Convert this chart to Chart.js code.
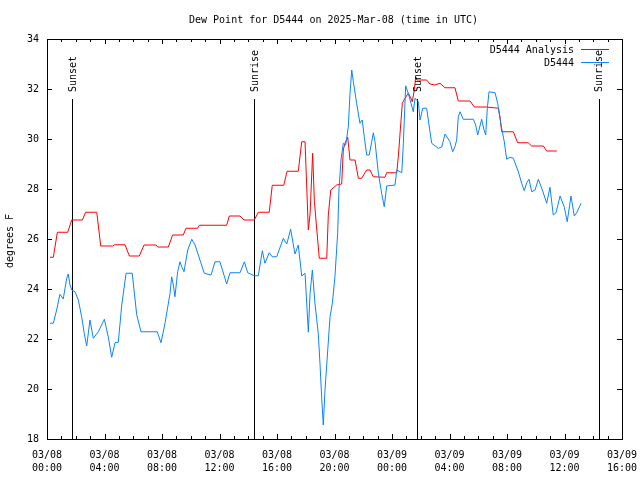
<!DOCTYPE html>
<html>
<head>
<meta charset="utf-8">
<script src="https://cdn.jsdelivr.net/npm/chart.js@4/dist/chart.umd.min.js"></script>
<style>
  body { margin: 0; background: #fff; }
  canvas { display: block; }
</style>
</head>
<body>
<canvas id="dewChart" width="640" height="480"></canvas>
<script>
'use strict';
// Globals
var FONT = '"DejaVu Sans Mono", "Liberation Mono", monospace';
var titleText = 'Dew Point for D5444 on 2025-Mar-08 (time in UTC)';
var yAxisTitle = 'degrees F';

// hours since 03/08 00:00 UTC
var analysisHours = [0.21, 0.44, 0.72, 1.44, 1.72, 2.46, 2.69, 3.46, 3.74, 4.57,
  4.70, 5.43, 5.73, 6.42, 6.75, 7.58, 7.70, 8.44, 8.74, 9.48,
  9.67, 10.48, 10.60, 12.50, 12.68, 13.43, 13.70, 14.42, 14.70, 15.46,
  15.67, 16.47, 16.70, 17.48, 17.72, 17.95, 18.18, 18.30, 18.48, 18.60,
  18.94, 19.46, 19.57, 19.74, 20.15, 20.50, 20.61, 20.73, 20.92, 21.08,
  21.43, 21.66, 21.89, 22.24, 22.47, 22.70, 23.51, 23.63, 24.33, 24.44,
  24.56, 24.72, 24.90, 25.13, 25.32, 25.41, 25.55, 25.65, 25.72, 26.41,
  26.64, 26.99, 27.34, 27.69, 28.38, 28.61, 29.43, 29.73, 30.59, 31.40,
  31.51, 31.63, 32.44, 32.74, 33.48, 33.72, 34.53, 34.76, 35.46];
var analysisDewPt = [25.27, 25.27, 26.27, 26.27, 26.76, 26.76, 27.07, 27.07, 25.72, 25.72,
  25.77, 25.77, 25.32, 25.32, 25.76, 25.76, 25.68, 25.68, 26.16, 26.16,
  26.43, 26.43, 26.55, 26.55, 26.92, 26.92, 26.76, 26.76, 27.07, 27.07,
  28.15, 28.15, 28.71, 28.71, 29.89, 29.89, 26.36, 27.0, 29.43, 27.5,
  25.23, 25.23, 26.96, 27.96, 28.16, 28.2, 29.56, 29.83, 30.07, 29.16,
  29.16, 28.43, 28.43, 28.76, 28.76, 28.49, 28.47, 28.65, 28.65, 29.29,
  30.23, 31.43, 31.63, 31.83, 31.63, 31.49, 31.96, 32.49, 32.36, 32.36,
  32.2, 32.16, 32.23, 32.05, 32.05, 31.52, 31.52, 31.28, 31.28, 31.23,
  30.89, 30.29, 30.29, 29.85, 29.85, 29.72, 29.72, 29.52, 29.52];

var obsHours = [0.21, 0.44, 0.67, 0.90, 1.13, 1.37, 1.48, 1.60, 1.72, 1.95,
  2.18, 2.41, 2.59, 2.76, 2.99, 3.22, 3.57, 3.99, 4.26, 4.50,
  4.73, 4.96, 5.20, 5.50, 5.93, 6.24, 6.54, 7.67, 7.93, 8.21,
  8.56, 8.67, 8.79, 8.90, 9.09, 9.25, 9.37, 9.53, 9.79, 10.07,
  10.30, 10.64, 10.94, 11.41, 11.69, 12.03, 12.50, 12.73, 13.43, 13.73,
  13.96, 14.42, 14.70, 14.98, 15.16, 15.46, 15.67, 15.98, 16.44, 16.68,
  16.95, 17.25, 17.48, 17.72, 17.95, 18.18, 18.30, 18.46, 18.64, 18.87,
  18.99, 19.11, 19.22, 19.34, 19.53, 19.69, 19.85, 20.03, 20.22, 20.31,
  20.45, 20.61, 20.78, 20.96, 21.08, 21.20, 21.31, 21.54, 21.77, 21.93,
  22.07, 22.24, 22.42, 22.70, 22.82, 23.05, 23.28, 23.46, 23.63, 24.21,
  24.33, 24.68, 24.79, 24.95, 25.13, 25.32, 25.48, 25.60, 25.83, 25.95,
  26.14, 26.41, 26.76, 27.22, 27.46, 27.69, 28.03, 28.22, 28.38, 28.50,
  28.61, 28.73, 28.96, 29.66, 29.82, 29.96, 30.24, 30.40, 30.52, 30.63,
  30.75, 31.17, 31.35, 31.51, 31.63, 31.81, 31.98, 32.21, 32.44, 32.79,
  33.02, 33.20, 33.37, 33.53, 33.72, 33.95, 34.18, 34.46, 34.76, 34.99,
  35.22, 35.41, 35.69, 35.99, 36.19, 36.45, 36.68, 36.85, 37.15];
var obsDewPt = [22.63, 22.63, 23.16, 23.79, 23.60, 24.43, 24.60, 24.16, 23.96, 23.89,
  23.56, 22.89, 22.23, 21.72, 22.76, 22.03, 22.29, 22.79, 22.09, 21.27,
  21.85, 21.87, 23.36, 24.63, 24.63, 22.97, 22.29, 22.29, 21.85, 22.63,
  23.83, 24.49, 24.16, 23.69, 24.69, 25.09, 24.89, 24.69, 25.56, 25.99,
  25.76, 25.16, 24.63, 24.56, 25.09, 25.09, 24.20, 24.65, 24.65, 25.09,
  24.65, 24.53, 24.53, 25.53, 25.03, 25.45, 25.29, 25.29, 26.03, 25.80,
  26.39, 25.40, 25.76, 24.52, 24.63, 22.27, 23.83, 24.76, 23.43, 22.23,
  21.03, 19.63, 18.56, 19.96, 21.56, 22.89, 23.43, 24.49, 26.23, 27.96,
  29.16, 29.83, 29.76, 30.49, 31.83, 32.76, 32.29, 31.43, 30.63, 30.76,
  30.09, 29.36, 29.36, 30.25, 29.89, 28.63, 27.83, 27.29, 28.12, 28.16,
  28.76, 28.65, 29.83, 32.13, 31.83, 31.43, 31.09, 31.63, 31.49, 30.76,
  31.23, 31.23, 29.83, 29.63, 29.68, 30.20, 29.89, 29.49, 29.70, 29.96,
  30.89, 31.09, 30.79, 30.79, 30.56, 30.16, 30.79, 30.36, 30.16, 31.23,
  31.89, 31.85, 31.43, 30.83, 30.43, 29.89, 29.19, 29.27, 29.23, 28.69,
  28.23, 27.93, 28.25, 28.39, 27.89, 27.96, 28.39, 27.96, 27.43, 28.07,
  26.96, 27.05, 27.72, 27.27, 26.69, 27.72, 26.92, 27.05, 27.43];

var sunNames = ['Sunset', 'Sunrise', 'Sunset', 'Sunrise'];
var sunHours = [1.76, 14.42, 25.76, 38.38];

var xTickDates = ['03/08', '03/08', '03/08', '03/08', '03/08', '03/08', '03/09', '03/09', '03/09', '03/09', '03/09'];
var xTickTimes = ['00:00', '04:00', '08:00', '12:00', '16:00', '20:00', '00:00', '04:00', '08:00', '12:00', '16:00'];

var seriesNames = ['D5444 Analysis', 'D5444'];
var seriesColors = ['#ff0000', '#0a84ff'];

var toPoints = function (hours, values) {
  var pts = [];
  for (var i = 0; i < hours.length; i++) {
    pts.push({ x: hours[i], y: values[i] });
  }
  return pts;
};

// frame, inward ticks, sunrise/sunset lines and all the gnuplot-like text
var gnuplotDecor = {
  id: 'gnuplotDecor',
  beforeDatasetsDraw: function (chart) {
    var ctx = chart.ctx;
    var a = chart.chartArea;
    var xs = chart.scales.x;
    var ys = chart.scales.y;
    ctx.save();
    ctx.strokeStyle = '#000';
    ctx.lineWidth = 1;
    ctx.beginPath();
    for (var h = 0; h <= 40; h++) {
      var px = Math.round(xs.getPixelForValue(h)) + 0.5;
      var len = (h % 4 === 0) ? 5 : 3;
      ctx.moveTo(px, a.bottom); ctx.lineTo(px, a.bottom - len);
      ctx.moveTo(px, a.top); ctx.lineTo(px, a.top + len);
    }
    for (var v = 18; v <= 34; v += 2) {
      var py = Math.round(ys.getPixelForValue(v)) + 0.5;
      ctx.moveTo(a.left, py); ctx.lineTo(a.left + 5, py);
      ctx.moveTo(a.right, py); ctx.lineTo(a.right - 5, py);
    }
    for (var s = 0; s < sunHours.length; s++) {
      var sx = Math.round(xs.getPixelForValue(sunHours[s])) + 0.5;
      ctx.moveTo(sx, 99); ctx.lineTo(sx, a.bottom);
    }
    ctx.stroke();
    ctx.strokeRect(Math.round(a.left) + 0.5, Math.round(a.top) + 0.5,
      Math.round(a.right - a.left), Math.round(a.bottom - a.top));
    ctx.restore();
  },
  afterDraw: function (chart) {
    var ctx = chart.ctx;
    var xs = chart.scales.x;
    ctx.save();
    ctx.fillStyle = '#000';
    ctx.font = '10px ' + FONT;
    ctx.textBaseline = 'middle';
    ctx.textAlign = 'left';
    ctx.fillText(titleText, 189, 20);

    // y axis title
    ctx.save();
    ctx.translate(10, 241);
    ctx.rotate(-Math.PI / 2);
    ctx.textAlign = 'center';
    ctx.fillText(yAxisTitle, 0, 0);
    ctx.restore();

    // sun labels
    for (var s = 0; s < sunHours.length; s++) {
      var sx = xs.getPixelForValue(sunHours[s]);
      ctx.save();
      ctx.translate(sx + 1, 92);
      ctx.rotate(-Math.PI / 2);
      ctx.textAlign = 'left';
      ctx.fillText(sunNames[s], 0, 0);
      ctx.restore();
    }

    // legend
    ctx.textAlign = 'right';
    var rows = [50, 63];
    for (var i = 0; i < seriesNames.length; i++) {
      ctx.fillStyle = '#000';
      ctx.fillText(seriesNames[i], 574, rows[i]);
      ctx.strokeStyle = seriesColors[i];
      ctx.lineWidth = 1;
      ctx.beginPath();
      ctx.moveTo(581, rows[i] - 0.5);
      ctx.lineTo(609, rows[i] - 0.5);
      ctx.stroke();
    }
    ctx.restore();
  }
};

var ctx = document.getElementById('dewChart').getContext('2d');
var chart = new Chart(ctx, {
  type: 'line',
  data: {
    datasets: [{
      label: seriesNames[0],
      data: toPoints(analysisHours, analysisDewPt),
      borderColor: seriesColors[0],
      borderWidth: 1,
      pointRadius: 0,
      tension: 0,
      order: 2
    }, {
      label: seriesNames[1],
      data: toPoints(obsHours, obsDewPt),
      borderColor: seriesColors[1],
      borderWidth: 1,
      pointRadius: 0,
      tension: 0,
      order: 1
    }]
  },
  options: {
    responsive: false,
    animation: false,
    events: [],
    layout: { padding: { left: 0, right: 18, top: 39, bottom: 0 } },
    plugins: {
      legend: { display: false },
      title: { display: false },
      tooltip: { enabled: false }
    },
    scales: {
      x: {
        type: 'linear',
        min: 0,
        max: 40,
        grid: { display: false, drawTicks: false },
        border: { display: false },
        afterFit: function (scale) {
          scale.height = 41;
          scale.paddingLeft = 0;
          scale.paddingRight = 0;
        },
        ticks: {
          stepSize: 4,
          autoSkip: false,
          maxRotation: 0,
          padding: 10,
          color: '#000',
          font: { family: FONT, size: 10, lineHeight: 1.3 },
          callback: function (value) {
            var i = Math.round(value / 4);
            return [xTickDates[i], xTickTimes[i]];
          }
        }
      },
      y: {
        min: 18,
        max: 34,
        grid: { display: false, drawTicks: false },
        border: { display: false },
        afterFit: function (scale) {
          scale.width = 47;
          scale.paddingTop = 0;
          scale.paddingBottom = 0;
        },
        ticks: {
          stepSize: 2,
          padding: 8,
          color: '#000',
          font: { family: FONT, size: 10 }
        }
      }
    }
  },
  plugins: [gnuplotDecor]
});
</script>
</body>
</html>
